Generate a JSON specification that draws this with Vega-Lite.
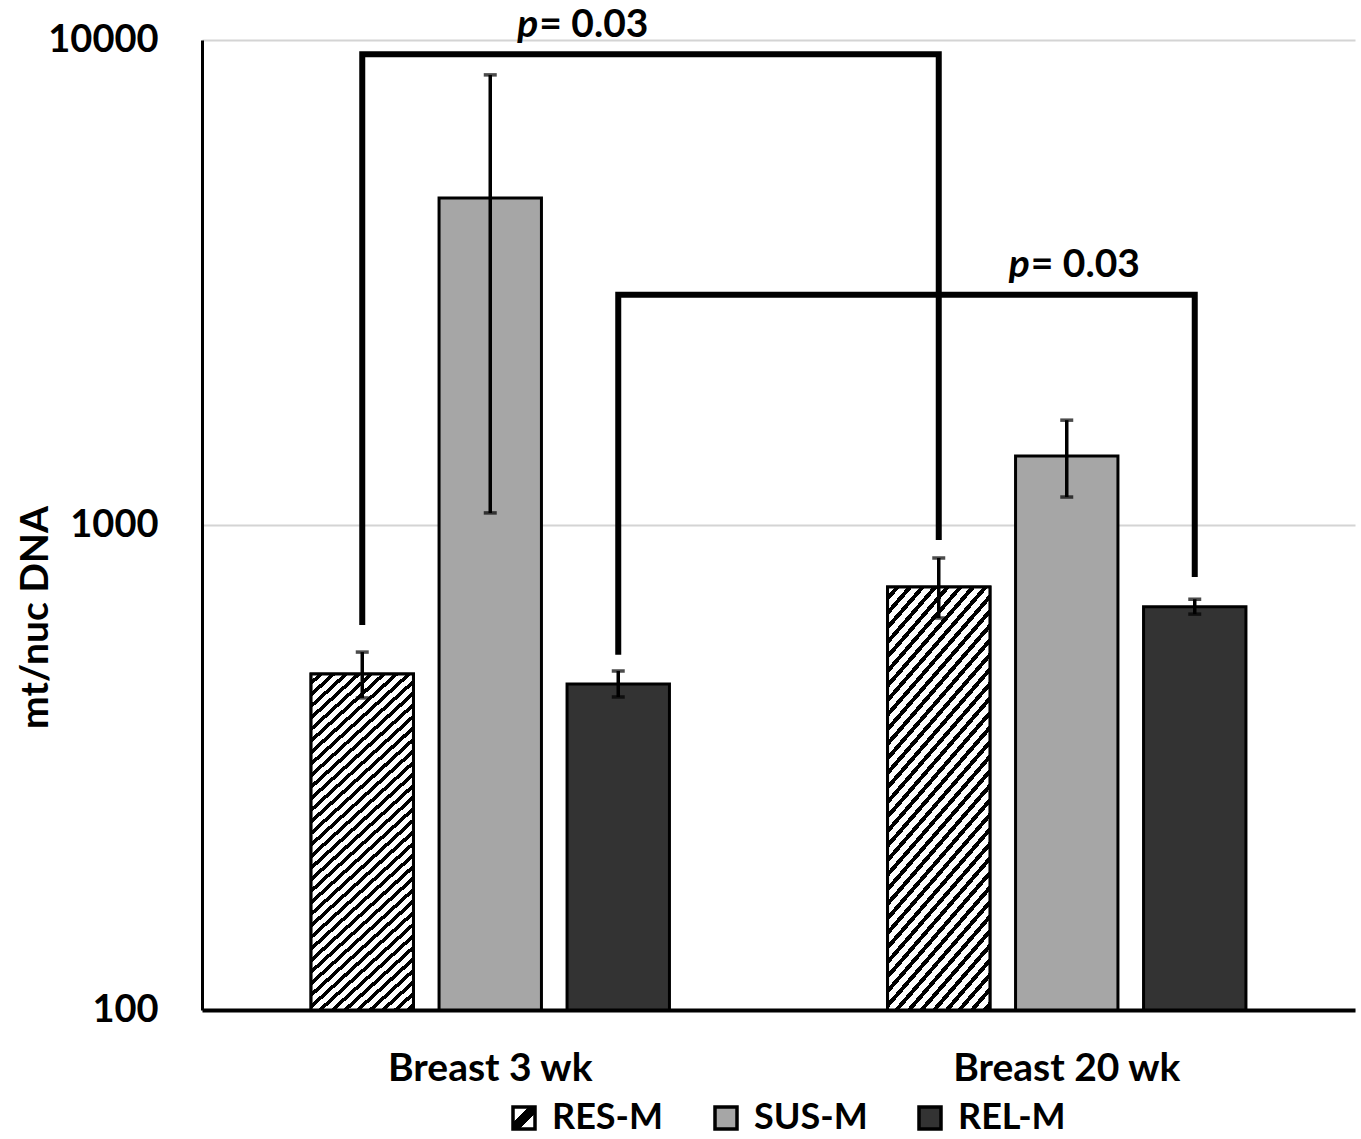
{
  "$schema": "https://vega.github.io/schema/vega-lite/v6.json",
  "autosize": {"type": "none"},
  "width": 1153,
  "height": 970,
  "padding": {"left": 202, "top": 40, "right": 6, "bottom": 129},
  "background": "white",
  "config": {"font": "Lato", "view": {"stroke": null}},
  "datasets": {
    "bars": [
      {"group": "Breast 3 wk", "series": "RES-M", "value": 493, "lo": 440, "hi": 547},
      {"group": "Breast 3 wk", "series": "SUS-M", "value": 4723, "lo": 1059, "hi": 8474},
      {"group": "Breast 3 wk", "series": "REL-M", "value": 470, "lo": 442, "hi": 500},
      {"group": "Breast 20 wk", "series": "RES-M", "value": 745, "lo": 643, "hi": 855},
      {"group": "Breast 20 wk", "series": "SUS-M", "value": 1388, "lo": 1142, "hi": 1645},
      {"group": "Breast 20 wk", "series": "REL-M", "value": 678, "lo": 655, "hi": 703}
    ],
    "brackets": [
      {"id": "A", "ord": 1, "group": "Breast 3 wk", "series": "RES-M", "value": 622},
      {"id": "A", "ord": 2, "group": "Breast 3 wk", "series": "RES-M", "value": 9350},
      {"id": "A", "ord": 3, "group": "Breast 20 wk", "series": "RES-M", "value": 9350},
      {"id": "A", "ord": 4, "group": "Breast 20 wk", "series": "RES-M", "value": 931},
      {"id": "B", "ord": 1, "group": "Breast 3 wk", "series": "REL-M", "value": 540},
      {"id": "B", "ord": 2, "group": "Breast 3 wk", "series": "REL-M", "value": 2985},
      {"id": "B", "ord": 3, "group": "Breast 20 wk", "series": "REL-M", "value": 2985},
      {"id": "B", "ord": 4, "group": "Breast 20 wk", "series": "REL-M", "value": 781}
    ],
    "annotA": [{"group": "Breast 3 wk", "series": "SUS-M", "value": 10143, "p": "p", "rest": "= 0.03"}],
    "annotB": [{"group": "Breast 20 wk", "series": "SUS-M", "value": 3245, "p": "p", "rest": "= 0.03"}]
  },
  "encoding": {
    "x": {
      "field": "group",
      "type": "nominal",
      "sort": ["Breast 3 wk", "Breast 20 wk"],
      "scale": {"domain": ["Breast 3 wk", "Breast 20 wk"], "paddingInner": 0, "paddingOuter": 0},
      "axis": {
        "title": null,
        "labelAngle": 0,
        "labelFont": "Lato",
        "labelFontWeight": "bold",
        "labelFontSize": 39,
        "labelColor": "black",
        "labelPadding": 39,
        "labelLimit": 0,
        "ticks": false,
        "domainColor": "black",
        "domainWidth": 4,
        "grid": false
      }
    },
    "xOffset": {
      "field": "series",
      "type": "nominal",
      "sort": ["RES-M", "SUS-M", "REL-M"],
      "scale": {"domain": ["RES-M", "SUS-M", "REL-M"], "paddingInner": 0.2, "paddingOuter": 0.852}
    }
  },
  "layer": [
    {
      "data": {"name": "bars"},
      "mark": {"type": "bar", "stroke": "black", "strokeWidth": 3},
      "encoding": {
        "y": {
          "field": "value",
          "type": "quantitative",
          "scale": {"type": "log", "domain": [100, 10000], "nice": false},
          "axis": {
            "title": "mt/nuc DNA",
            "titleFont": "Lato",
            "titleFontWeight": "bold",
            "titleFontSize": 39,
            "titleColor": "black",
            "titleAngle": -90,
            "titleX": -167,
            "titleY": 577,
            "titleAlign": "center",
            "titleBaseline": "middle",
            "values": [100, 1000, 10000],
            "format": "d",
            "labelFont": "Lato",
            "labelFontWeight": "bold",
            "labelFontSize": 38,
            "labelColor": "black",
            "labelPadding": 44,
            "labelBaseline": "middle",
            "ticks": false,
            "domainColor": "black",
            "domainWidth": 3,
            "grid": true,
            "gridColor": "#d4d4d4",
            "gridWidth": 2
          }
        },
        "y2": {"datum": 100},
        "color": {
          "field": "series",
          "type": "nominal",
          "scale": {
            "domain": ["RES-M", "SUS-M", "REL-M"],
            "range": [
              {"expr": "{gradient: 'linear', x1: 0, y1: 0, x2: 1, y2: 1, stops: [{offset: 0, color: '#ffffff'}, {offset: 0.36, color: '#ffffff'}, {offset: 0.36, color: '#000000'}, {offset: 0.64, color: '#000000'}, {offset: 0.64, color: '#ffffff'}, {offset: 1, color: '#ffffff'}]}"},
              "#a6a6a6",
              "#333333"
            ]
          },
          "legend": {
            "title": null,
            "orient": "none",
            "legendX": 304,
            "legendY": 1060,
            "direction": "horizontal",
            "symbolType": "square",
            "symbolSize": 484,
            "symbolStrokeColor": "black",
            "symbolStrokeWidth": 3.5,
            "symbolOpacity": 1,
            "labelFont": "Lato",
            "labelFontWeight": "bold",
            "labelFontSize": 36,
            "labelColor": "black",
            "labelOffset": 10,
            "columnPadding": 44,
            "padding": 0
          }
        }
      }
    },
    {
      "data": {"name": "bars"},
      "transform": [{"filter": "datum.series === 'RES-M'"}],
      "mark": {
        "type": "bar",
        "stroke": "black",
        "strokeWidth": 3,
        "fill": {
          "gradient": "linear",
          "x1": 0, "y1": 0, "x2": 0.33, "y2": 1.18,
          "stops": [
            {"offset": 0, "color": "#ffffff"}, {"offset": 0.0157, "color": "#ffffff"}, {"offset": 0.0157, "color": "#000000"}, {"offset": 0.0270, "color": "#000000"},
            {"offset": 0.0270, "color": "#ffffff"}, {"offset": 0.0427, "color": "#ffffff"}, {"offset": 0.0427, "color": "#000000"}, {"offset": 0.0541, "color": "#000000"},
            {"offset": 0.0541, "color": "#ffffff"}, {"offset": 0.0697, "color": "#ffffff"}, {"offset": 0.0697, "color": "#000000"}, {"offset": 0.0811, "color": "#000000"},
            {"offset": 0.0811, "color": "#ffffff"}, {"offset": 0.0968, "color": "#ffffff"}, {"offset": 0.0968, "color": "#000000"}, {"offset": 0.1081, "color": "#000000"},
            {"offset": 0.1081, "color": "#ffffff"}, {"offset": 0.1238, "color": "#ffffff"}, {"offset": 0.1238, "color": "#000000"}, {"offset": 0.1351, "color": "#000000"},
            {"offset": 0.1351, "color": "#ffffff"}, {"offset": 0.1508, "color": "#ffffff"}, {"offset": 0.1508, "color": "#000000"}, {"offset": 0.1622, "color": "#000000"},
            {"offset": 0.1622, "color": "#ffffff"}, {"offset": 0.1778, "color": "#ffffff"}, {"offset": 0.1778, "color": "#000000"}, {"offset": 0.1892, "color": "#000000"},
            {"offset": 0.1892, "color": "#ffffff"}, {"offset": 0.2049, "color": "#ffffff"}, {"offset": 0.2049, "color": "#000000"}, {"offset": 0.2162, "color": "#000000"},
            {"offset": 0.2162, "color": "#ffffff"}, {"offset": 0.2319, "color": "#ffffff"}, {"offset": 0.2319, "color": "#000000"}, {"offset": 0.2432, "color": "#000000"},
            {"offset": 0.2432, "color": "#ffffff"}, {"offset": 0.2589, "color": "#ffffff"}, {"offset": 0.2589, "color": "#000000"}, {"offset": 0.2703, "color": "#000000"},
            {"offset": 0.2703, "color": "#ffffff"}, {"offset": 0.2859, "color": "#ffffff"}, {"offset": 0.2859, "color": "#000000"}, {"offset": 0.2973, "color": "#000000"},
            {"offset": 0.2973, "color": "#ffffff"}, {"offset": 0.3130, "color": "#ffffff"}, {"offset": 0.3130, "color": "#000000"}, {"offset": 0.3243, "color": "#000000"},
            {"offset": 0.3243, "color": "#ffffff"}, {"offset": 0.3400, "color": "#ffffff"}, {"offset": 0.3400, "color": "#000000"}, {"offset": 0.3514, "color": "#000000"},
            {"offset": 0.3514, "color": "#ffffff"}, {"offset": 0.3670, "color": "#ffffff"}, {"offset": 0.3670, "color": "#000000"}, {"offset": 0.3784, "color": "#000000"},
            {"offset": 0.3784, "color": "#ffffff"}, {"offset": 0.3941, "color": "#ffffff"}, {"offset": 0.3941, "color": "#000000"}, {"offset": 0.4054, "color": "#000000"},
            {"offset": 0.4054, "color": "#ffffff"}, {"offset": 0.4211, "color": "#ffffff"}, {"offset": 0.4211, "color": "#000000"}, {"offset": 0.4324, "color": "#000000"},
            {"offset": 0.4324, "color": "#ffffff"}, {"offset": 0.4481, "color": "#ffffff"}, {"offset": 0.4481, "color": "#000000"}, {"offset": 0.4595, "color": "#000000"},
            {"offset": 0.4595, "color": "#ffffff"}, {"offset": 0.4751, "color": "#ffffff"}, {"offset": 0.4751, "color": "#000000"}, {"offset": 0.4865, "color": "#000000"},
            {"offset": 0.4865, "color": "#ffffff"}, {"offset": 0.5022, "color": "#ffffff"}, {"offset": 0.5022, "color": "#000000"}, {"offset": 0.5135, "color": "#000000"},
            {"offset": 0.5135, "color": "#ffffff"}, {"offset": 0.5292, "color": "#ffffff"}, {"offset": 0.5292, "color": "#000000"}, {"offset": 0.5405, "color": "#000000"},
            {"offset": 0.5405, "color": "#ffffff"}, {"offset": 0.5562, "color": "#ffffff"}, {"offset": 0.5562, "color": "#000000"}, {"offset": 0.5676, "color": "#000000"},
            {"offset": 0.5676, "color": "#ffffff"}, {"offset": 0.5832, "color": "#ffffff"}, {"offset": 0.5832, "color": "#000000"}, {"offset": 0.5946, "color": "#000000"},
            {"offset": 0.5946, "color": "#ffffff"}, {"offset": 0.6103, "color": "#ffffff"}, {"offset": 0.6103, "color": "#000000"}, {"offset": 0.6216, "color": "#000000"},
            {"offset": 0.6216, "color": "#ffffff"}, {"offset": 0.6373, "color": "#ffffff"}, {"offset": 0.6373, "color": "#000000"}, {"offset": 0.6486, "color": "#000000"},
            {"offset": 0.6486, "color": "#ffffff"}, {"offset": 0.6643, "color": "#ffffff"}, {"offset": 0.6643, "color": "#000000"}, {"offset": 0.6757, "color": "#000000"},
            {"offset": 0.6757, "color": "#ffffff"}, {"offset": 0.6914, "color": "#ffffff"}, {"offset": 0.6914, "color": "#000000"}, {"offset": 0.7027, "color": "#000000"},
            {"offset": 0.7027, "color": "#ffffff"}, {"offset": 0.7184, "color": "#ffffff"}, {"offset": 0.7184, "color": "#000000"}, {"offset": 0.7297, "color": "#000000"},
            {"offset": 0.7297, "color": "#ffffff"}, {"offset": 0.7454, "color": "#ffffff"}, {"offset": 0.7454, "color": "#000000"}, {"offset": 0.7568, "color": "#000000"},
            {"offset": 0.7568, "color": "#ffffff"}, {"offset": 0.7724, "color": "#ffffff"}, {"offset": 0.7724, "color": "#000000"}, {"offset": 0.7838, "color": "#000000"},
            {"offset": 0.7838, "color": "#ffffff"}, {"offset": 0.7995, "color": "#ffffff"}, {"offset": 0.7995, "color": "#000000"}, {"offset": 0.8108, "color": "#000000"},
            {"offset": 0.8108, "color": "#ffffff"}, {"offset": 0.8265, "color": "#ffffff"}, {"offset": 0.8265, "color": "#000000"}, {"offset": 0.8378, "color": "#000000"},
            {"offset": 0.8378, "color": "#ffffff"}, {"offset": 0.8535, "color": "#ffffff"}, {"offset": 0.8535, "color": "#000000"}, {"offset": 0.8649, "color": "#000000"},
            {"offset": 0.8649, "color": "#ffffff"}, {"offset": 0.8805, "color": "#ffffff"}, {"offset": 0.8805, "color": "#000000"}, {"offset": 0.8919, "color": "#000000"},
            {"offset": 0.8919, "color": "#ffffff"}, {"offset": 0.9076, "color": "#ffffff"}, {"offset": 0.9076, "color": "#000000"}, {"offset": 0.9189, "color": "#000000"},
            {"offset": 0.9189, "color": "#ffffff"}, {"offset": 0.9346, "color": "#ffffff"}, {"offset": 0.9346, "color": "#000000"}, {"offset": 0.9459, "color": "#000000"},
            {"offset": 0.9459, "color": "#ffffff"}, {"offset": 0.9616, "color": "#ffffff"}, {"offset": 0.9616, "color": "#000000"}, {"offset": 0.9730, "color": "#000000"},
            {"offset": 0.9730, "color": "#ffffff"}, {"offset": 0.9886, "color": "#ffffff"}, {"offset": 0.9886, "color": "#000000"}, {"offset": 1, "color": "#000000"}
          ]
        }
      },
      "encoding": {
        "y": {"field": "value", "type": "quantitative"},
        "y2": {"datum": 100}
      }
    },
    {
      "data": {"name": "bars"},
      "mark": {"type": "rule", "color": "black", "strokeWidth": 3.5},
      "encoding": {
        "y": {"field": "lo", "type": "quantitative"},
        "y2": {"field": "hi"}
      }
    },
    {
      "data": {"name": "bars"},
      "mark": {"type": "tick", "color": "black", "size": 13, "thickness": 3.5},
      "encoding": {"y": {"field": "hi", "type": "quantitative"}}
    },
    {
      "data": {"name": "bars"},
      "mark": {"type": "tick", "color": "black", "size": 13, "thickness": 3.5},
      "encoding": {"y": {"field": "lo", "type": "quantitative"}}
    },
    {
      "data": {"name": "brackets"},
      "mark": {"type": "line", "color": "black", "strokeWidth": 6, "strokeJoin": "miter", "strokeCap": "butt"},
      "encoding": {
        "y": {"field": "value", "type": "quantitative"},
        "detail": {"field": "id"},
        "order": {"field": "ord", "type": "quantitative"}
      }
    },
    {
      "data": {"name": "annotA"},
      "mark": {"type": "text", "font": "Lato", "fontWeight": "bold", "fontStyle": "italic", "fontSize": 39, "align": "right", "baseline": "alphabetic", "dx": 48, "color": "black"},
      "encoding": {"y": {"field": "value", "type": "quantitative"}, "text": {"field": "p"}}
    },
    {
      "data": {"name": "annotA"},
      "mark": {"type": "text", "font": "Lato", "fontWeight": "bold", "fontSize": 39, "align": "left", "baseline": "alphabetic", "dx": 49, "color": "black"},
      "encoding": {"y": {"field": "value", "type": "quantitative"}, "text": {"field": "rest"}}
    },
    {
      "data": {"name": "annotB"},
      "mark": {"type": "text", "font": "Lato", "fontWeight": "bold", "fontStyle": "italic", "fontSize": 39, "align": "right", "baseline": "alphabetic", "dx": -37, "color": "black"},
      "encoding": {"y": {"field": "value", "type": "quantitative"}, "text": {"field": "p"}}
    },
    {
      "data": {"name": "annotB"},
      "mark": {"type": "text", "font": "Lato", "fontWeight": "bold", "fontSize": 39, "align": "left", "baseline": "alphabetic", "dx": -36, "color": "black"},
      "encoding": {"y": {"field": "value", "type": "quantitative"}, "text": {"field": "rest"}}
    }
  ]
}
